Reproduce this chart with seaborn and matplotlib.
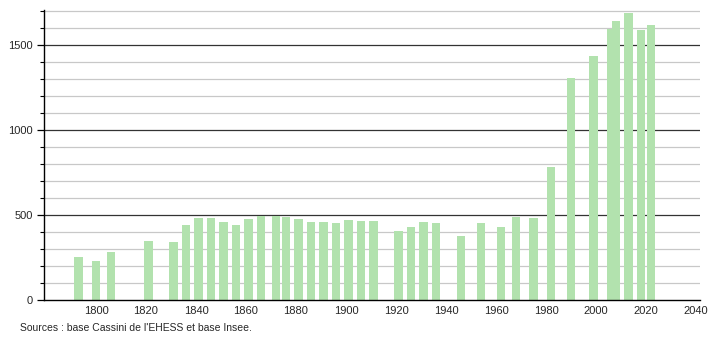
import matplotlib
matplotlib.use("Agg")
import matplotlib.pyplot as plt
import seaborn as sns
import pandas as pd
from matplotlib.ticker import MultipleLocator

years = [1793, 1800, 1806, 1821, 1831, 1836, 1841, 1846, 1851, 1856,
         1861, 1866, 1872, 1876, 1881, 1886, 1891, 1896, 1901, 1906,
         1911, 1921, 1926, 1931, 1936, 1946, 1954, 1962, 1968, 1975,
         1982, 1990, 1999, 2006, 2008, 2013, 2018, 2022]
population = [252, 229, 282, 347, 341, 441, 482, 483, 459, 441,
              475, 494, 494, 488, 475, 461, 457, 453, 471, 465,
              465, 406, 429, 457, 451, 376, 451, 428, 486, 480,
              780, 1304, 1435, 1594, 1643, 1690, 1588, 1616]
x_ticks = [1800, 1820, 1840, 1860, 1880, 1900, 1920, 1940, 1960, 1980, 2000, 2020, 2040]
y_ticks = [0, 500, 1000, 1500]
source_text = "Sources : base Cassini de l'EHESS et base Insee."

df = pd.DataFrame({"year": years, "pop": population})

sns.set_style("white")
plt.rcParams["font.family"] = ["Liberation Sans", "DejaVu Sans"]

fig = plt.figure(figsize=(7.1, 3.4), dpi=100)
ax = fig.add_axes([44 / 710, 1 - 300 / 340, 656 / 710, 290 / 340])

# gridlines
for v in range(100, 1800, 100):
    if v % 500 == 0:
        ax.axhline(v, color="#333333", lw=0.9, zorder=0)
    else:
        ax.axhline(v, color="#c8c8c8", lw=0.9, zorder=0)

sns.barplot(data=df, x="year", y="pop", native_scale=True, width=1.65,
            color="#b2e2ae", saturation=1, ax=ax, errorbar=None, linewidth=0)
for p in ax.patches:
    p.set_zorder(3)
    p.set_linewidth(0)
    p.set_edgecolor("none")

ax.set_xlim(1779.2, 2041.6)
ax.set_ylim(0, 1706)
ax.set_xticks(x_ticks)
ax.set_xticklabels([str(t) for t in x_ticks])
ax.set_yticks(y_ticks)
ax.set_yticklabels([str(t) for t in y_ticks])
ax.yaxis.set_minor_locator(MultipleLocator(100))
ax.tick_params(axis="y", which="major", length=5, width=0.9, color="black",
               labelsize=8, pad=3, left=True)
ax.tick_params(axis="y", which="minor", length=3, width=0.8, color="black", left=True)
ax.tick_params(axis="x", length=0, labelsize=8, pad=4)
ax.set_xlabel("")
ax.set_ylabel("")
for s in ["top", "right"]:
    ax.spines[s].set_visible(False)
for s in ["left", "bottom"]:
    ax.spines[s].set_color("black")
    ax.spines[s].set_linewidth(1.0)
    ax.spines[s].set_zorder(4)

fig.text(20 / 710, 1 - 328 / 340, source_text, fontsize=7.5, va="center", ha="left")

fig.savefig("out.png", dpi=100)
